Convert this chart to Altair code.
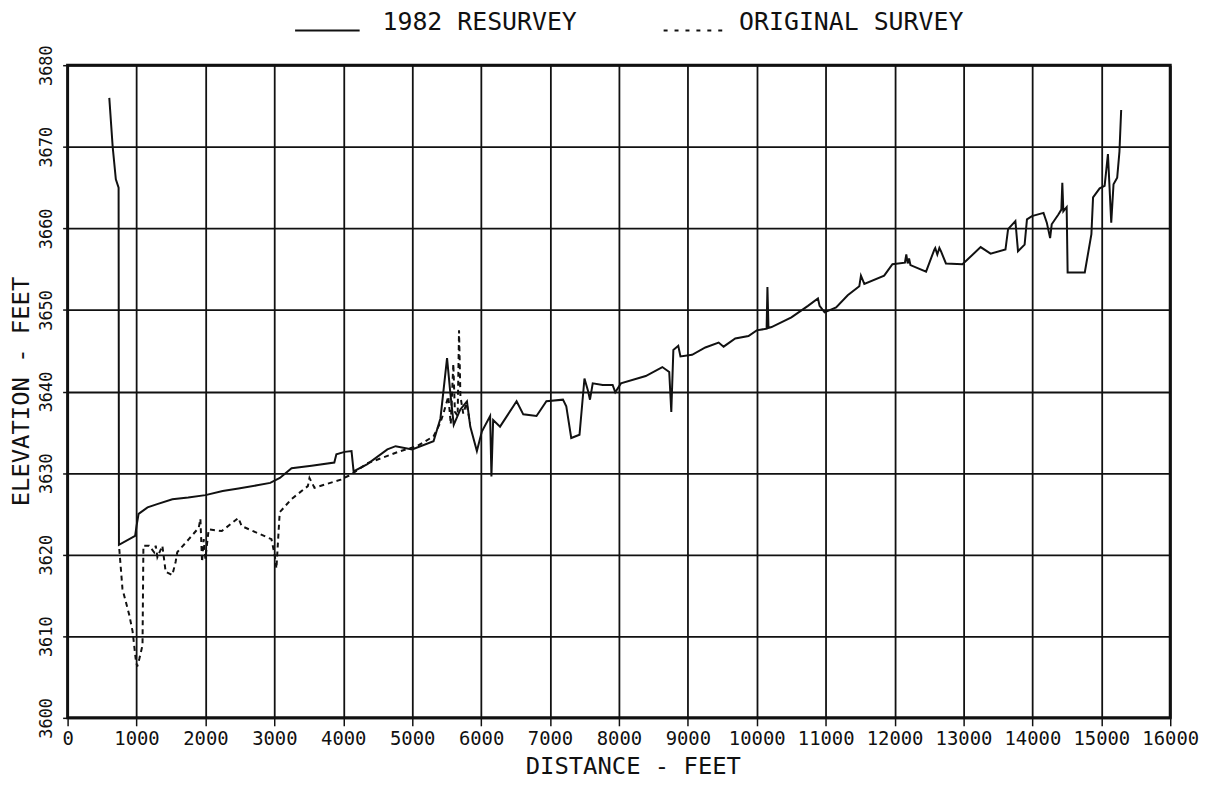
import altair as alt
import pandas as pd

# ---- data ----
resurvey_x = [605, 654, 700, 740, 745, 980, 1000, 1030, 1160, 1300, 1520, 1750, 2000, 2250, 2480,
              2750, 2940, 3080, 3250, 3540, 3870, 3900, 4020, 4120, 4150, 4350, 4640, 4760, 5000,
              5310, 5410, 5506, 5554, 5603, 5699, 5795, 5843, 5939, 6011, 6131, 6150, 6175, 6275,
              6468, 6515, 6612, 6804, 6948, 7188, 7236, 7308, 7428, 7500, 7548, 7580, 7620, 7765,
              7909, 7947, 8029, 8389, 8630, 8730, 8760, 8790, 8861, 8893, 9062, 9254, 9447, 9519,
              9688, 9880, 9999, 10143, 10155, 10170, 10215, 10503, 10743, 10888, 10912, 10984,
              11152, 11320, 11488, 11512, 11561, 11849, 11969, 12150, 12170, 12190, 12210, 12230,
              12457, 12577, 12590, 12620, 12650, 12673, 12745, 12985, 13249, 13393, 13609, 13647,
              13753, 13791, 13887, 13921, 13993, 14161, 14209, 14257, 14280, 14377, 14420, 14434,
              14449, 14497, 14511, 14760, 14856, 14880, 14976, 15048, 15096, 15144, 15177, 15230,
              15263, 15288]
resurvey_y = [3676.0, 3670.0, 3666.0, 3665.0, 3621.2, 3622.3, 3623.5, 3625.0, 3625.8, 3626.2, 3626.8,
              3627.0, 3627.3, 3627.8, 3628.1, 3628.5, 3628.8, 3629.4, 3630.6, 3630.9, 3631.3, 3632.3,
              3632.6, 3632.7, 3630.2, 3631.1, 3632.9, 3633.3, 3632.9, 3633.9, 3636.7, 3644.1, 3639.8,
              3635.9, 3637.8, 3638.8, 3635.7, 3632.7, 3635.1, 3637.0, 3629.6, 3636.5, 3635.7, 3638.2,
              3638.8, 3637.2, 3637.0, 3638.8, 3639.0, 3638.2, 3634.3, 3634.7, 3641.6, 3640.2, 3639.0,
              3641.0, 3640.8, 3640.8, 3639.9, 3641.0, 3641.9, 3643.0, 3642.4, 3637.5, 3645.1, 3645.6,
              3644.3, 3644.5, 3645.4, 3646.0, 3645.5, 3646.5, 3646.8, 3647.5, 3647.7, 3652.8, 3647.8,
              3647.9, 3649.1, 3650.5, 3651.4, 3650.5, 3649.7, 3650.3, 3651.8, 3652.9, 3654.2, 3653.2,
              3654.2, 3655.6, 3655.8, 3656.8, 3655.7, 3656.3, 3655.5, 3654.7, 3657.4, 3657.6, 3656.8,
              3657.6, 3657.2, 3655.7, 3655.6, 3657.7, 3656.9, 3657.4, 3659.9, 3660.9, 3657.2, 3658.0,
              3661.1, 3661.5, 3661.9, 3660.7, 3658.8, 3660.5, 3661.7, 3662.3, 3665.6, 3662.1, 3662.6,
              3654.6, 3654.6, 3659.3, 3663.8, 3664.9, 3665.2, 3669.1, 3660.7, 3665.4, 3666.2, 3669.4,
              3674.5]

original_x = [750, 796, 895, 943, 991, 1010, 1040, 1087, 1100, 1183, 1255, 1279, 1303, 1375, 1423,
              1519, 1567, 1591, 1759, 1903, 1927, 1951, 1975, 1999, 2047, 2238, 2478, 2526, 2958,
              3006, 3030, 3078, 3246, 3486, 3510, 3582, 3965, 4109, 4349, 4829, 5069, 5309, 5405,
              5453, 5525, 5560, 5597, 5620, 5660, 5680, 5700, 5741, 5789, 5840]
original_y = [3620.7, 3615.8, 3612.6, 3610.6, 3607.0, 3606.3, 3607.2, 3608.9, 3621.1, 3621.1, 3620.3,
              3621.1, 3619.7, 3621.1, 3617.9, 3617.5, 3619.1, 3620.3, 3621.9, 3623.3, 3624.4, 3619.1,
              3621.9, 3619.5, 3623.1, 3622.9, 3624.5, 3623.5, 3621.9, 3619.9, 3618.3, 3625.2, 3626.8,
              3628.4, 3629.4, 3628.2, 3629.2, 3629.8, 3631.2, 3632.7, 3633.3, 3634.5, 3636.1, 3637.3,
              3639.4, 3636.0, 3643.4, 3637.5, 3637.0, 3647.5, 3639.4, 3637.3, 3638.6, 3636.1]

x_ticks = list(range(0, 16001, 1000))
y_ticks = list(range(3600, 3681, 10))
legend_labels = ["1982 RESURVEY", "ORIGINAL SURVEY"]

FONT = "DejaVu Sans Mono"
INK = "#111111"

res_df = pd.DataFrame({"distance": resurvey_x, "elevation": resurvey_y,
                       "i": list(range(len(resurvey_x)))})
orig_df = pd.DataFrame({"distance": original_x, "elevation": original_y,
                        "i": list(range(len(original_x)))})

xs = alt.Scale(domain=[0, 16000], nice=False, zero=False)
ys = alt.Scale(domain=[3600, 3680], nice=False, zero=False)

xaxis = alt.Axis(values=x_ticks, grid=True, gridColor=INK, gridWidth=1.8, gridOpacity=1,
                 domain=False, ticks=True, tickSize=8, tickColor=INK, tickWidth=1.5,
                 labelFont=FONT, labelFontSize=19, labelColor=INK, labelPadding=4,
                 labelFlush=False, labelOverlap=False, format="d",
                 title="DISTANCE - FEET", titleFont=FONT, titleFontSize=24,
                 titleFontWeight="normal", titleColor=INK, titlePadding=6, titleX=569)
yaxis = alt.Axis(values=y_ticks, grid=True, gridColor=INK, gridWidth=1.8, gridOpacity=1,
                 domain=False, ticks=True, tickSize=5, tickColor=INK, tickWidth=1.5,
                 labelFont=FONT, labelFontSize=17, labelColor=INK, labelPadding=7,
                 labelAngle=270, labelAlign="center", labelBaseline="bottom",
                 labelFlush=False, labelOverlap=False, format="d",
                 title="ELEVATION - FEET", titleFont=FONT, titleFontSize=24,
                 titleFontWeight="normal", titleColor=INK,
                 titleAngle=270, titleAlign="center", titleBaseline="middle",
                 titleX=-46, titleY=328)

X = alt.X("distance:Q", scale=xs, axis=xaxis)
Y = alt.Y("elevation:Q", scale=ys, axis=yaxis)

res = alt.Chart(res_df).mark_line(color=INK, strokeWidth=2).encode(
    x=X, y=Y, order="i:Q")
orig = alt.Chart(orig_df).mark_line(color=INK, strokeWidth=2, strokeDash=[5, 4]).encode(
    x=X, y=Y, order="i:Q")

one = pd.DataFrame({"k": [0]})


def legend_text(txt, x):
    return alt.Chart(pd.DataFrame({"t": [txt]})).mark_text(
        font=FONT, fontSize=25, color=INK, align="left", baseline="alphabetic"
    ).encode(text="t:N", x=alt.value(x), y=alt.value(-35))


def legend_rule(x1, x2, dash):
    kw = dict(color=INK, strokeWidth=2)
    if dash:
        kw["strokeDash"] = dash
    return alt.Chart(one).mark_rule(**kw).encode(
        x=alt.value(x1), x2=alt.value(x2), y=alt.value(-35))


legend = (legend_rule(229, 294, None) + legend_text(legend_labels[0], 317)
          + legend_rule(600, 662, [4, 7]) + legend_text(legend_labels[1], 676))

chart = alt.layer(res, orig, legend).properties(
    width=1110, height=657,
    autosize=alt.AutoSizeParams(type="none"),
    padding={"left": 60, "top": 55, "right": 36, "bottom": 60},
    background="white",
).configure_view(stroke=INK, strokeWidth=3)

chart.save("out.html", embed_options={"renderer": "svg", "actions": False})
